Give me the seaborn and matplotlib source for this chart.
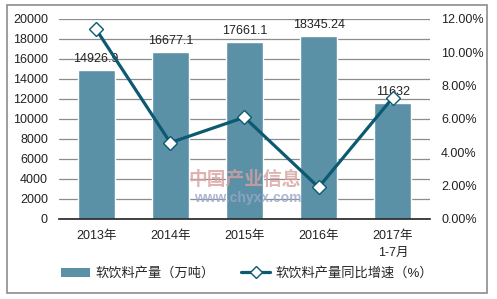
import numpy as np
import pandas as pd
import matplotlib
matplotlib.use("Agg")
import matplotlib.pyplot as plt
import seaborn as sns
from matplotlib.patches import Rectangle, Patch
from matplotlib.lines import Line2D

categories = ["2013年", "2014年", "2015年", "2016年", "2017年\n1-7月"]
output = [14926.9, 16677.1, 17661.1, 18345.24, 11632]
output_labels = ["14926.9", "16677.1", "17661.1", "18345.24", "11632"]
growth = [11.38, 4.58, 6.1, 1.9, 7.28]
bar_name = "软饮料产量（万吨）"
line_name = "软饮料产量同比增速（%）"

sns.set_theme(style="white")
plt.rcParams['font.family'] = ['Liberation Sans', 'Noto Sans CJK SC', 'DejaVu Sans']

bar_color = "#5b91a7"
line_color = "#0c5a72"

fig = plt.figure(figsize=(4.97, 2.99), dpi=100)
ax = fig.add_axes([0.1187, 0.2676, 0.7463, 0.669])

df = pd.DataFrame({"cat": categories, "val": output})
sns.barplot(data=df, x="cat", y="val", ax=ax, color=bar_color, width=0.5,
            saturation=1, zorder=2)
ax.set_ylim(0, 20000)
ax.set_yticks(np.arange(0, 20001, 2000))
ax.set_xlim(-0.5, len(categories) - 0.5)
ax.grid(axis="y", color="#8c8c8c", linewidth=0.9, zorder=0)
ax.set_axisbelow(True)
for s in ["left", "right", "top"]:
    ax.spines[s].set_visible(False)
ax.spines["bottom"].set_color("#222222")
ax.spines["bottom"].set_linewidth(1.2)
ax.set_xlabel("")
ax.set_ylabel("")
ax.tick_params(axis="both", length=0, labelsize=9, colors="#222222")
ax.tick_params(axis="x", pad=8)
ax.tick_params(axis="y", pad=8)
for lab in ax.get_xticklabels():
    lab.set_linespacing(1.55)

for i, (v, lab) in enumerate(zip(output, output_labels)):
    ax.text(i, v + 500, lab, ha="center", va="bottom", fontsize=9,
            color="#222222", zorder=5)

# watermark
ax.text(2.0, 3900, "中国产业信息", ha="center", va="center", fontsize=13.5,
        color="#d9a0a0", alpha=0.8, fontweight="bold", zorder=3)
ax.text(2.05, 2100, "www.chyxx.com", ha="center", va="center", fontsize=10,
        color="#9aa6c8", alpha=0.8, fontweight="bold", zorder=3)

ax2 = ax.twinx()
sns.lineplot(x=np.arange(len(categories)), y=growth, ax=ax2, color=line_color,
             linewidth=2.3, marker="D", markersize=7.5, markerfacecolor="white",
             markeredgecolor=line_color, markeredgewidth=1.0, zorder=4)
ax2.set_ylim(0, 12)
ax2.set_yticks(np.arange(0, 12.01, 2))
ax2.set_yticklabels([f"{t:.2f}%" for t in np.arange(0, 12.01, 2)])
for s in ["left", "right", "top", "bottom"]:
    ax2.spines[s].set_visible(False)
ax2.tick_params(axis="y", length=0, labelsize=9, colors="#222222", pad=8)
ax2.set_ylabel("")
ax2.grid(False)

handles = [Patch(facecolor=bar_color, edgecolor="none"),
           Line2D([0], [0], color=line_color, linewidth=2.3, marker="D",
                  markersize=6, markerfacecolor="white", markeredgecolor=line_color)]
fig.legend(handles, [bar_name, line_name], loc="center", ncol=2,
           bbox_to_anchor=(0.497, 0.085), frameon=False, fontsize=9.5,
           handlelength=2.2, columnspacing=2.0, handletextpad=0.4)

fig.patches.append(Rectangle((7 / 497, 6 / 299), 480 / 497, 288 / 299,
                             transform=fig.transFigure, fill=False,
                             edgecolor="#8c8c8c", linewidth=1.2))

fig.savefig("out.png", dpi=100)
